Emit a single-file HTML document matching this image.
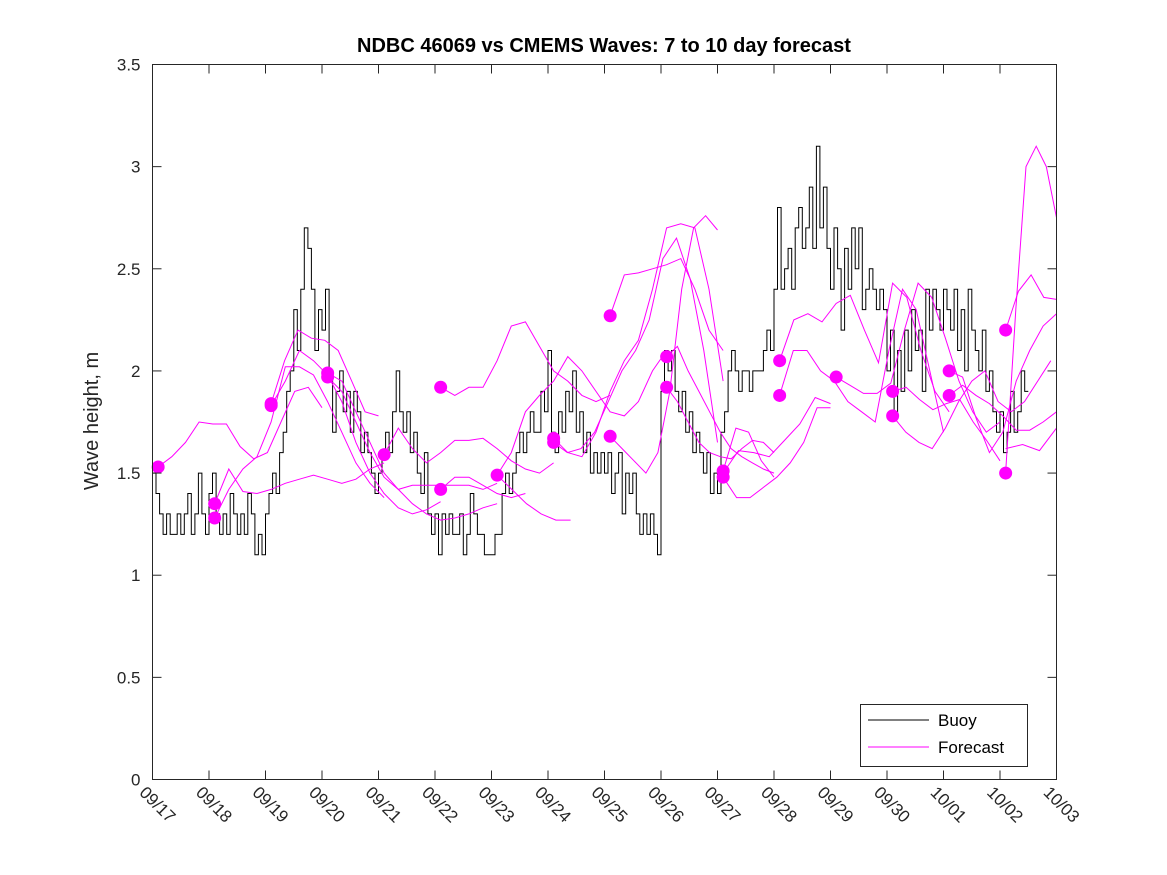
<!DOCTYPE html>
<html><head><meta charset="utf-8"><style>
body{margin:0;background:#fff;font-family:"Liberation Sans","DejaVu Sans",sans-serif}
svg{display:block}
</style></head><body>
<svg id="chart" width="1167" height="875" viewBox="0 0 1167 875" xmlns="http://www.w3.org/2000/svg">
<rect width="1167" height="875" fill="#fff"/>
<text x="604" y="52" text-anchor="middle" font-size="20" font-weight="bold" fill="#000">NDBC 46069 vs CMEMS Waves: 7 to 10 day forecast</text>
<text transform="translate(98,421) rotate(-90)" text-anchor="middle" font-size="20" fill="#262626">Wave height, m</text>
<g id="series"></g>
<rect x="152.5" y="64.5" width="904" height="715" fill="none" stroke="#262626" stroke-width="1"/>
<g id="ticks"></g>
<g>
<rect x="860.5" y="704.5" width="167" height="62" fill="#fff" stroke="#262626"/>
<line x1="868" y1="720" x2="929" y2="720" stroke="#000" stroke-width="1"/>
<text x="938" y="726" font-size="17" fill="#000">Buoy</text>
<line x1="868" y1="747" x2="929" y2="747" stroke="#f0f" stroke-width="1"/>
<text x="938" y="753" font-size="17" fill="#000">Forecast</text>
</g>
</svg>
<script>
const xTickLabels=["09/17","09/18","09/19","09/20","09/21","09/22","09/23","09/24","09/25","09/26","09/27","09/28","09/29","09/30","10/01","10/02","10/03"];
const yTicks=[0,0.5,1,1.5,2,2.5,3,3.5];
const yTickLabels=["0","0.5","1","1.5","2","2.5","3","3.5"];
const buoyStep=0.0625;
const buoyValues=[
1.5,1.4,1.3,1.2,1.3,1.2,1.2,1.3,1.2,1.3,1.4,1.2,1.3,1.5,1.3,1.2,
1.4,1.5,1.3,1.2,1.3,1.2,1.4,1.3,1.2,1.3,1.2,1.4,1.3,1.1,1.2,1.1,
1.3,1.4,1.5,1.4,1.6,1.7,1.9,2.0,2.3,2.1,2.4,2.7,2.6,2.4,2.1,2.3,
2.2,2.4,2.0,1.7,1.9,2.0,1.8,1.9,1.7,1.9,1.8,1.6,1.7,1.6,1.5,1.4,
1.5,1.6,1.7,1.6,1.8,2.0,1.8,1.7,1.8,1.6,1.7,1.5,1.4,1.6,1.3,1.2,
1.3,1.1,1.3,1.2,1.3,1.2,1.2,1.3,1.1,1.2,1.4,1.3,1.2,1.2,1.1,1.1,
1.1,1.2,1.2,1.4,1.5,1.4,1.5,1.6,1.7,1.6,1.7,1.8,1.7,1.7,1.9,1.8,
2.1,1.7,1.6,1.8,1.7,1.9,1.8,2.0,1.7,1.8,1.6,1.7,1.5,1.6,1.5,1.6,
1.5,1.6,1.4,1.5,1.6,1.3,1.5,1.4,1.5,1.3,1.2,1.3,1.2,1.3,1.2,1.1,
1.9,2.1,2.0,2.1,1.9,1.8,1.9,1.7,1.8,1.6,1.7,1.6,1.5,1.6,1.4,1.5,
1.4,1.7,1.8,2.0,2.1,2.0,1.9,2.0,2.0,1.9,2.0,2.0,2.0,2.1,2.2,2.1,
2.4,2.8,2.4,2.5,2.6,2.4,2.7,2.8,2.6,2.7,2.9,2.6,3.1,2.7,2.9,2.6,
2.4,2.7,2.5,2.2,2.6,2.4,2.7,2.5,2.7,2.3,2.4,2.5,2.4,2.3,2.4,2.3,
2.0,2.2,1.8,2.1,1.9,2.2,2.0,2.3,2.1,2.2,1.9,2.4,2.2,2.4,2.3,2.2,
2.4,2.3,2.2,2.4,2.1,2.3,2.0,2.4,2.2,2.1,2.0,2.2,1.9,2.0,1.8,1.7,
1.8,1.6,1.7,1.9,1.7,1.8,2.0,1.9];
const fcStart=[0.1,1.1,1.1,2.1,2.1,3.1,3.1,4.1,5.1,5.1,6.1,6.1,7.1,7.1,8.1,8.1,9.1,9.1,10.1,10.1,10.1,11.1,11.1,12.1,13.1,13.1,14.1,14.1,15.1,15.1,15.1];
const fcEnd=[3.0,4.1,4.1,4.0,5.1,6.1,6.1,7.1,8.1,6.6,9.1,7.4,10.1,10.0,10.1,10.0,11.0,11.0,11.0,12.0,12.0,14.1,14.0,15.0,15.9,15.0,16.0,16.0,16.0,16.0,16.0];
const fcValues=[
[1.53,1.58,1.65,1.75,1.74,1.74,1.63,1.57,1.60,1.75,1.90,1.92,1.82],
[1.35,1.52,1.41,1.40,1.42,1.45,1.47,1.49,1.47,1.45,1.47,1.52,1.55],
[1.28,1.42,1.52,1.58,1.75,2.02,2.02,1.98,1.85,1.70,1.55,1.45,1.38],
[1.84,2.05,2.20,2.16,2.15,2.10,1.95,1.80,1.78],
[1.83,1.95,2.10,2.05,1.98,1.85,1.65,1.50,1.40,1.33,1.30,1.32,1.36],
[1.99,1.95,1.80,1.65,1.50,1.42,1.35,1.30,1.27,1.28,1.30,1.33,1.35],
[1.97,1.90,1.75,1.60,1.48,1.42,1.44,1.44,1.44,1.44,1.44,1.42,1.45],
[1.59,1.72,1.62,1.55,1.60,1.66,1.66,1.67,1.62,1.56,1.52,1.50,1.55],
[1.92,1.88,1.92,1.92,2.05,2.22,2.24,2.12,2.00,1.95,1.88,1.85,1.88],
[1.42,1.48,1.48,1.44,1.40,1.38,1.40],
[1.49,1.60,1.80,1.88,1.95,2.07,2.00,1.90,1.80,1.78,1.85,2.00,2.10],
[1.49,1.42,1.35,1.30,1.27,1.27],
[1.67,1.60,1.58,1.70,1.90,2.05,2.15,2.40,2.70,2.72,2.70,2.40,1.95],
[1.65,1.60,1.62,1.70,1.85,2.00,2.10,2.25,2.55,2.65,2.45,2.10,1.65],
[2.27,2.47,2.48,2.50,2.52,2.55,2.40,2.20,2.10],
[1.68,1.62,1.56,1.50,1.60,1.90,2.40,2.70,2.76,2.69],
[2.07,2.12,2.00,1.90,1.80,1.70,1.62,1.58,1.55,1.52,1.50],
[1.92,1.85,1.75,1.65,1.60,1.58,1.57,1.62,1.66,1.65,1.60],
[1.51,1.72,1.70,1.56,1.48],
[1.48,1.38,1.38,1.43,1.48,1.55,1.65,1.82,1.82],
[1.50,1.61,1.60,1.58,1.66,1.74,1.87,1.84],
[2.05,2.25,2.28,2.24,2.33,2.37,2.20,2.04,2.43,2.36,2.10,1.90,1.80],
[1.88,2.10,2.10,2.00,1.95,1.85,1.80,1.75,2.10,2.40,2.30,2.00,1.70],
[1.97,1.93,1.89,1.89,1.94,2.20,2.43,2.36,2.16,1.95,1.80,1.70,1.75],
[1.78,1.70,1.65,1.62,1.72,1.85,1.95,2.00,1.85,1.80,1.85,1.95,2.05],
[1.90,1.92,1.86,1.81,1.84,1.86,1.75,1.66,1.56],
[2.00,1.97,1.77,1.60,1.70,1.95,2.10,2.22,2.28],
[1.88,1.93,1.88,1.84,1.78,1.71,1.71,1.75,1.80],
[2.20,2.39,2.47,2.36,2.35],
[1.50,2.30,3.00,3.10,3.00,2.75],
[1.62,1.64,1.61,1.72]];
const dotDays=[0.1,1.1,1.1,2.1,2.1,3.1,3.1,4.1,5.1,5.1,6.1,7.1,7.1,8.1,8.1,9.1,9.1,10.1,10.1,11.1,11.1,12.1,13.1,13.1,14.1,14.1,15.1,15.1];
const dotValues=[1.53,1.35,1.28,1.84,1.83,1.99,1.97,1.59,1.92,1.42,1.49,1.67,1.65,2.27,1.68,2.07,1.92,1.51,1.48,2.05,1.88,1.97,1.90,1.78,2.00,1.88,2.20,1.50];

const X0=152.5,X1=1056.5,Y0=779.5,Y1=64.5;
const xs=d=>X0+(X1-X0)*d/16;
const ys=v=>Y0-(Y0-Y1)*v/3.5;
const NS="http://www.w3.org/2000/svg";
function mk(t,a){const e=document.createElementNS(NS,t);for(const k in a)e.setAttribute(k,a[k]);return e;}
const ticks=document.getElementById('ticks'),series=document.getElementById('series');
xTickLabels.forEach((lab,i)=>{
  const x=xs(i);
  const t1=mk('line',{x1:x,y1:Y0,x2:x,y2:Y0-9,stroke:'#262626'});
  
  
  ticks.appendChild(t1);
  const t2=mk('line',{x1:x,y1:Y1,x2:x,y2:Y1+9,stroke:'#262626'});
  
  
  ticks.appendChild(t2);
  const tx=mk('text',{transform:`translate(${x-14},${Y0+14}) rotate(45)`,'font-size':'17',fill:'#262626'});
  tx.textContent=lab;
  
  
  ticks.appendChild(tx);
});
yTicks.forEach((v,i)=>{
  const y=ys(v);
  const t1=mk('line',{x1:X0,y1:y,x2:X0+9,y2:y,stroke:'#262626'});
  
  
  ticks.appendChild(t1);
  const t2=mk('line',{x1:X1,y1:y,x2:X1-9,y2:y,stroke:'#262626'});
  
  
  ticks.appendChild(t2);
  const tx=mk('text',{x:X0-12,y:y+6,'text-anchor':'end','font-size':'17',fill:'#262626'});
  tx.textContent=yTickLabels[i];
  
  
  ticks.appendChild(tx);
});
let bp='';
buoyValues.forEach((v,i)=>{
  const xa=xs(i*buoyStep),xb=xs((i+1)*buoyStep);
  bp+=(i?'L':'M')+xa.toFixed(1)+','+ys(v).toFixed(1)+'L'+xb.toFixed(1)+','+ys(v).toFixed(1);
});
const buoy=mk('path',{d:bp,fill:'none',stroke:'#000','stroke-width':'1'});


series.appendChild(buoy);
fcValues.forEach((vals,k)=>{
  const n=vals.length,t0=fcStart[k],t1=fcEnd[k];
  const d=vals.map((v,i)=>(i?'L':'M')+xs(t0+(t1-t0)*i/(n-1)).toFixed(1)+','+ys(v).toFixed(1)).join('');
  const p=mk('path',{d:d,fill:'none',stroke:'#f0f','stroke-width':'1'});
  
  
  series.appendChild(p);
});
dotDays.forEach((dd,i)=>{
  const c=mk('circle',{cx:xs(dd),cy:ys(dotValues[i]),r:6.5,fill:'#f0f'});
  
  
  series.appendChild(c);
});
</script>
</body></html>
